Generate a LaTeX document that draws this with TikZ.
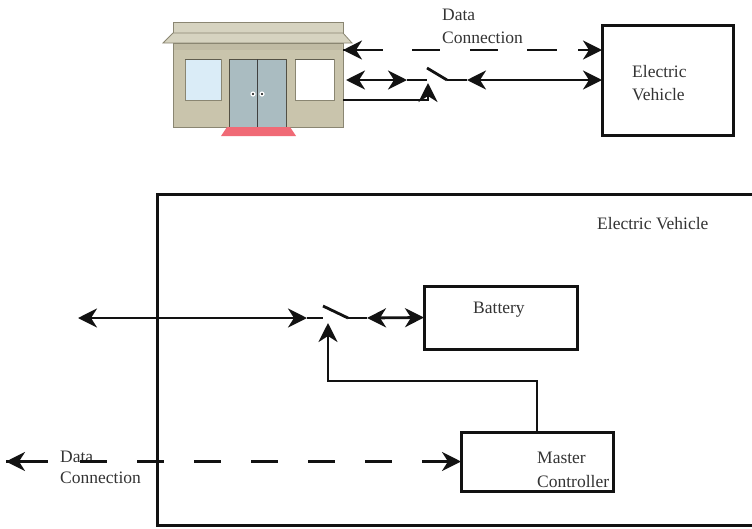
\documentclass[tikz,border=0pt]{standalone}
\usepackage{fontspec}
\setmainfont{Liberation Serif}
\usetikzlibrary{arrows.meta,decorations.markings}

\definecolor{wallc}{RGB}{201,196,172}
\definecolor{roofc}{RGB}{214,211,192}
\definecolor{trimc}{RGB}{138,134,114}
\definecolor{glassc}{RGB}{218,236,247}
\definecolor{doorc}{RGB}{170,188,193}
\definecolor{matc}{RGB}{240,106,118}
\definecolor{inkc}{RGB}{18,18,18}
\definecolor{textc}{RGB}{52,52,52}

\newcommand\lbfont{\fontsize{17.5}{23}\selectfont}

\tikzset{
  >={Stealth[length=19pt,width=19pt,inset=6pt]},
  blk/.style={draw=inkc, line width=3pt, fill=white, inner sep=0pt,
    outer sep=0pt, anchor=north west},
  conn/.style={draw=inkc, line width=2.8pt},
  lbl/.style={text=textc, font=\lbfont, inner sep=0pt, anchor=base west},
  bothtips/.style={postaction={decorate, decoration={markings,
    mark=at position 0 with {\arrowreversed{Stealth[length=19pt,width=19pt,inset=6pt]}},
    mark=at position 1 with {\arrow{Stealth[length=19pt,width=19pt,inset=6pt]}}}}},
  housepart/.style={draw=trimc, line width=0.8pt},
}

\begin{document}
\begin{tikzpicture}[x=1pt, y=-1pt]
\useasboundingbox (0,0) rectangle (752,528);

% ---------- charging station (shop front) ----------
\fill[housepart, fill=roofc] (173,22) rectangle (343,33);
\fill[housepart, fill=roofc] (173,33) -- (343,33) -- (352,43) -- (163,43) -- cycle;
\fill[housepart, fill=wallc] (173,43) rectangle (343,127);
\fill[wallc!88!black, opacity=0.35] (174,44) rectangle (342,50);
\fill[housepart, fill=glassc] (185,59) rectangle (221,100);
\draw[trimc!70!black, line width=1.2pt] (185,59.5) -- (221,59.5);
\fill[housepart, fill=white] (295,59) rectangle (334,100);
\draw[trimc!70!black, line width=1.2pt] (295,59.5) -- (334,59.5);
\fill[draw=trimc!60!black, line width=1pt, fill=doorc] (229,59) rectangle (286,127);
\draw[black!75, line width=1.3pt] (257.5,59) -- (257.5,127);
\fill[white] (253,94) circle (2.6) (262,94) circle (2.6);
\fill[black] (253,94) circle (1.2) (262,94) circle (1.2);
\fill[matc] (227,127) -- (290,127) -- (296,136) -- (221,136) -- cycle;

\coordinate (hd) at (343,50);
\coordinate (hp) at (346,80);
\coordinate (hc) at (343,100);

% ---------- blocks ----------
\node[blk, minimum width=603pt, minimum height=331pt] (evbig) at (157,194) {};
\node[blk, minimum width=131pt, minimum height=110pt] (ev) at (602,25) {};
\node[blk, minimum width=153pt, minimum height=63pt] (bat) at (424,286) {};
\node[blk, minimum width=152pt, minimum height=59pt] (mc) at (461,432) {};

% ---------- labels ----------
\node[lbl] (td1) at (442,20) {Data};
\node[lbl] (td2) at (442,43) {Connection};
\node[lbl] (ev1) at (632,77) {Electric};
\node[lbl] (ev2) at (632,100) {Vehicle};
\node[lbl] (evb) at (597,229) {Electric Vehicle};
\node[lbl] (batl) at (473,313) {Battery};
\node[lbl] (mc1) at (537,463) {Master};
\node[lbl] (mc2) at (537,487) {Controller};
\node[lbl] (bd1) at (60,462) {Data};
\node[lbl] (bd2) at (60,483) {Connection};

% ---------- upper link: station to vehicle ----------
\coordinate (evd) at (ev.west |- hd);
\draw[conn, bothtips, dash pattern=on 40pt off 29pt on 28pt off 30pt on 28pt off 29pt on 30pt off 21pt on 22pt]
  (hd) -- (evd);

\coordinate (s1l) at (407,80);
\coordinate (s1a) at (427,80);
\coordinate (s1b) at (427,68);
\coordinate (s1c) at (447,80);
\coordinate (s1d) at (467,80);
\coordinate (s1k) at (428,83);
\draw[conn, <->] (hp) -- (s1l);
\draw[conn] (s1l) -- (s1a);
\draw[conn] (s1b) -- (s1c);
\draw[conn] (s1c) -- (s1d);
\draw[conn, <->] (s1d) -- (ev.west);
\draw[conn, ->] (hc) -| (s1k);

% ---------- lower link: inside the vehicle ----------
\coordinate (pl) at (78,318);
\coordinate (s2l) at (307,318);
\coordinate (s2a) at (323,318);
\coordinate (s2b) at (323,306);
\coordinate (s2c) at (348,318);
\coordinate (s2d) at (367,318);
\coordinate (s2k) at (328,323);
\coordinate (c2) at (328,381);
\draw[conn, <->] (pl) -- (s2l);
\draw[conn] (s2l) -- (s2a);
\draw[conn] (s2b) -- (s2c);
\draw[conn] (s2c) -- (s2d);
\draw[conn, <->] (s2d) -- (bat.west);
\draw[conn, ->] (mc.north) |- (c2) -- (s2k);

\coordinate (dl) at (6,461.5);
\draw[conn, bothtips, dash pattern=on 42pt off 32pt on 27pt off 30pt on 27pt off 30pt on 27pt off 30pt on 27pt off 30pt on 27pt off 30pt on 27pt off 30pt on 27pt off 30pt on 39pt]
  (dl) -- (mc.west);
\end{tikzpicture}
\end{document}
